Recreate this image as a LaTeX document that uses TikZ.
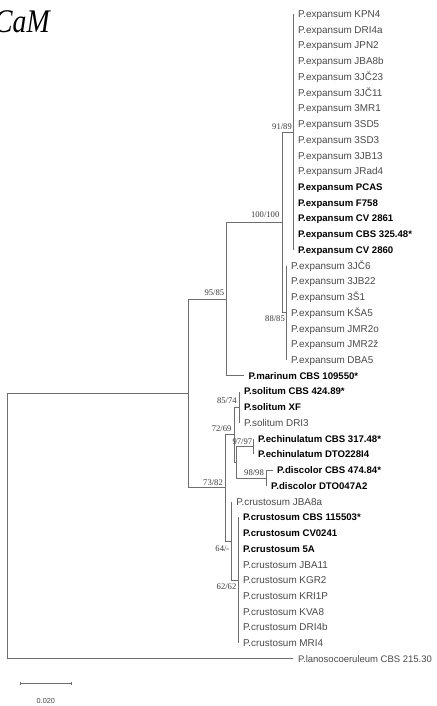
\documentclass[tikz,border=0pt]{standalone}
\usepackage{fontspec}
\setmainfont{Liberation Sans}
\newfontfamily\supportfont{Liberation Serif}
\newfontfamily\titlefont{Liberation Serif}
\definecolor{linegray}{HTML}{6E6E6E}
\definecolor{taxgray}{HTML}{4A4A4A}
\definecolor{supgray}{HTML}{3A3A3A}
% vertical position of leaf row #1
\newcommand\R[1]{(14+15.73*(#1))}
\tikzset{
  branch/.style={draw=linegray, line width=0.9pt},
  taxon/.style={anchor=west, inner sep=0pt, text height=7pt, text depth=0pt,
    font=\fontsize{9.9}{10}\selectfont, text=taxgray},
  keytaxon/.style={taxon, text height=6.9pt, font=\fontsize{9.6}{10}\selectfont\bfseries, text=black},
  support/.style={anchor=base east, inner sep=0pt,
    font=\supportfont\fontsize{8.6}{9}\selectfont, text=supgray},
}
\begin{document}
\begin{tikzpicture}[x=1pt,y=-1pt]
\path[use as bounding box, fill=white] (0,0) rectangle (436,706);

% title
\node[anchor=base west, inner sep=0pt, font=\titlefont\itshape\fontsize{33}{33}\selectfont]
  (title) at (-6,33) {\scalebox{0.84}[1]{CaM}};

% internal nodes
\coordinate (root) at (7.5,{\R{32.5625}});
\coordinate (n1)   at (188.5,{\R{24.125}});
\coordinate (n95)  at (226.7,{\R{18.125}});
\coordinate (n100) at (282.3,{\R{13.25}});
\coordinate (n91)  at (293.3,{\R{7.5}});
\coordinate (n88)  at (286.3,{\R{19}});
\coordinate (n73)  at (225.5,{\R{30.125}});
\coordinate (n72)  at (234,{\R{26.75}});
\coordinate (n85)  at (239.3,{\R{25}});
\coordinate (n97)  at (236.7,{\R{28.5}});
\coordinate (nech) at (253.3,{\R{27.5}});
\coordinate (ndis) at (266.5,{\R{29.5}});
\coordinate (n64)  at (231.7,{\R{33.5}});
\coordinate (n62)  at (238.3,{\R{36}});

% leaves
\node[taxon]    (t0)  at (297.8,{\R{0}})  {P.expansum KPN4};
\node[taxon]    (t1)  at (297.8,{\R{1}})  {P.expansum DRI4a};
\node[taxon]    (t2)  at (297.8,{\R{2}})  {P.expansum JPN2};
\node[taxon]    (t3)  at (297.8,{\R{3}})  {P.expansum JBA8b};
\node[taxon]    (t4)  at (297.8,{\R{4}})  {P.expansum 3JČ23};
\node[taxon]    (t5)  at (297.8,{\R{5}})  {P.expansum 3JČ11};
\node[taxon]    (t6)  at (297.8,{\R{6}})  {P.expansum 3MR1};
\node[taxon]    (t7)  at (297.8,{\R{7}})  {P.expansum 3SD5};
\node[taxon]    (t8)  at (297.8,{\R{8}})  {P.expansum 3SD3};
\node[taxon]    (t9)  at (297.8,{\R{9}})  {P.expansum 3JB13};
\node[taxon]    (t10) at (297.8,{\R{10}}) {P.expansum JRad4};
\node[keytaxon] (t11) at (297.8,{\R{11}}) {P.expansum PCAS};
\node[keytaxon] (t12) at (297.8,{\R{12}}) {P.expansum F758};
\node[keytaxon] (t13) at (297.8,{\R{13}}) {P.expansum CV 2861};
\node[keytaxon] (t14) at (297.8,{\R{14}}) {P.expansum CBS 325.48*};
\node[keytaxon] (t15) at (297.8,{\R{15}}) {P.expansum CV 2860};
\node[taxon]    (t16) at (290.8,{\R{16}}) {P.expansum 3JČ6};
\node[taxon]    (t17) at (290.8,{\R{17}}) {P.expansum 3JB22};
\node[taxon]    (t18) at (290.8,{\R{18}}) {P.expansum 3Š1};
\node[taxon]    (t19) at (290.8,{\R{19}}) {P.expansum KŠA5};
\node[taxon]    (t20) at (290.8,{\R{20}}) {P.expansum JMR2o};
\node[taxon]    (t21) at (290.8,{\R{21}}) {P.expansum JMR2ž};
\node[taxon]    (t22) at (290.8,{\R{22}}) {P.expansum DBA5};
\node[keytaxon] (t23) at (248.3,{\R{23}}) {P.marinum CBS 109550*};
\node[keytaxon] (t24) at (243.8,{\R{24}}) {P.solitum CBS 424.89*};
\node[keytaxon] (t25) at (243.8,{\R{25}}) {P.solitum XF};
\node[taxon]    (t26) at (243.8,{\R{26}}) {P.solitum DRI3};
\node[keytaxon] (t27) at (257.8,{\R{27}}) {P.echinulatum CBS 317.48*};
\node[keytaxon] (t28) at (257.8,{\R{28}}) {P.echinulatum DTO228I4};
\node[keytaxon] (t29) at (277.0,{\R{29}}) {P.discolor CBS 474.84*};
\node[keytaxon] (t30) at (271.0,{\R{30}}) {P.discolor DTO047A2};
\node[taxon]    (t31) at (236.2,{\R{31}}) {P.crustosum JBA8a};
\node[keytaxon] (t32) at (242.8,{\R{32}}) {P.crustosum CBS 115503*};
\node[keytaxon] (t33) at (242.8,{\R{33}}) {P.crustosum CV0241};
\node[keytaxon] (t34) at (242.8,{\R{34}}) {P.crustosum 5A};
\node[taxon]    (t35) at (242.8,{\R{35}}) {P.crustosum JBA11};
\node[taxon]    (t36) at (242.8,{\R{36}}) {P.crustosum KGR2};
\node[taxon]    (t37) at (242.8,{\R{37}}) {P.crustosum KRI1P};
\node[taxon]    (t38) at (242.8,{\R{38}}) {P.crustosum KVA8};
\node[taxon]    (t39) at (242.8,{\R{39}}) {P.crustosum DRI4b};
\node[taxon]    (t40) at (242.8,{\R{40}}) {P.crustosum MRI4};
\node[taxon, font=\fontsize{9.5}{10}\selectfont]
                (t41) at (297.8,{\R{41}}) {P.lanosocoeruleum CBS 215.30};

% branches between internal nodes
\draw[branch] (root) |- (n1);
\draw[branch] (n1) |- (n95);
\draw[branch] (n1) |- (n73);
\draw[branch] (n95) |- (n100);
\draw[branch] (n100) |- (n91);
\draw[branch] (n100) |- (n88);
\draw[branch] (n73) |- (n72);
\draw[branch] (n73) |- (n64);
\draw[branch] (n72) |- (n85);
\draw[branch] (n72) |- (n97);
\draw[branch] (n97) |- (nech);
\draw[branch] (n97) |- (ndis);
\draw[branch] (n64) |- (n62);

% branches to leaves
\foreach \i in {0,...,15} \draw[branch] (n91) |- ([xshift=-4.5pt]t\i.west);
\foreach \i in {16,...,22} \draw[branch] (n88) |- ([xshift=-4.5pt]t\i.west);
\draw[branch] (n95) |- ([xshift=-4.5pt]t23.west);
\foreach \i in {24,25,26} \draw[branch] (n85) |- ([xshift=-4.5pt]t\i.west);
\foreach \i in {27,28} \draw[branch] (nech) |- ([xshift=-4.5pt]t\i.west);
\foreach \i in {29,30} \draw[branch] (ndis) |- ([xshift=-4.5pt]t\i.west);
\draw[branch] (n64) |- ([xshift=-4.5pt]t31.west);
\foreach \i in {32,...,40} \draw[branch] (n62) |- ([xshift=-4.5pt]t\i.west);
\draw[branch] (root) |- ([xshift=-4.5pt]t41.west);

% bootstrap support
\node[support] (s91)  at (292.0,129.0) {91/89};
\node[support] (s100) at (279.5,217.5) {100/100};
\node[support] (s95)  at (224.3,295.7) {95/85};
\node[support] (s88)  at (285.0,321.7) {88/85};
\node[support] (s85)  at (236.8,403.7) {85/74};
\node[support] (s72)  at (231.6,431.3) {72/69};
\node[support] (s97)  at (252.3,444.0) {97/97};
\node[support] (s98)  at (264.0,475.0) {98/98};
\node[support] (s73)  at (223.0,485.0) {73/82};
\node[support] (s64)  at (229.5,551.0) {64/-};
\node[support] (s62)  at (236.5,589.7) {62/62};

% scale bar
\coordinate (sbL) at (20.7,683.5);
\coordinate (sbR) at (71.0,683.5);
\draw[branch] (sbL) -- (sbR);
\draw[branch, line width=0.7pt] ([yshift=1.8pt]sbL) -- ([yshift=-1.8pt]sbL);
\draw[branch, line width=0.7pt] ([yshift=1.8pt]sbR) -- ([yshift=-1.8pt]sbR);
\node[anchor=center, inner sep=0pt, font=\fontsize{7.3}{8}\selectfont, text=taxgray]
  (sblabel) at (45.8,700.5) {0.020};
\end{tikzpicture}
\end{document}
